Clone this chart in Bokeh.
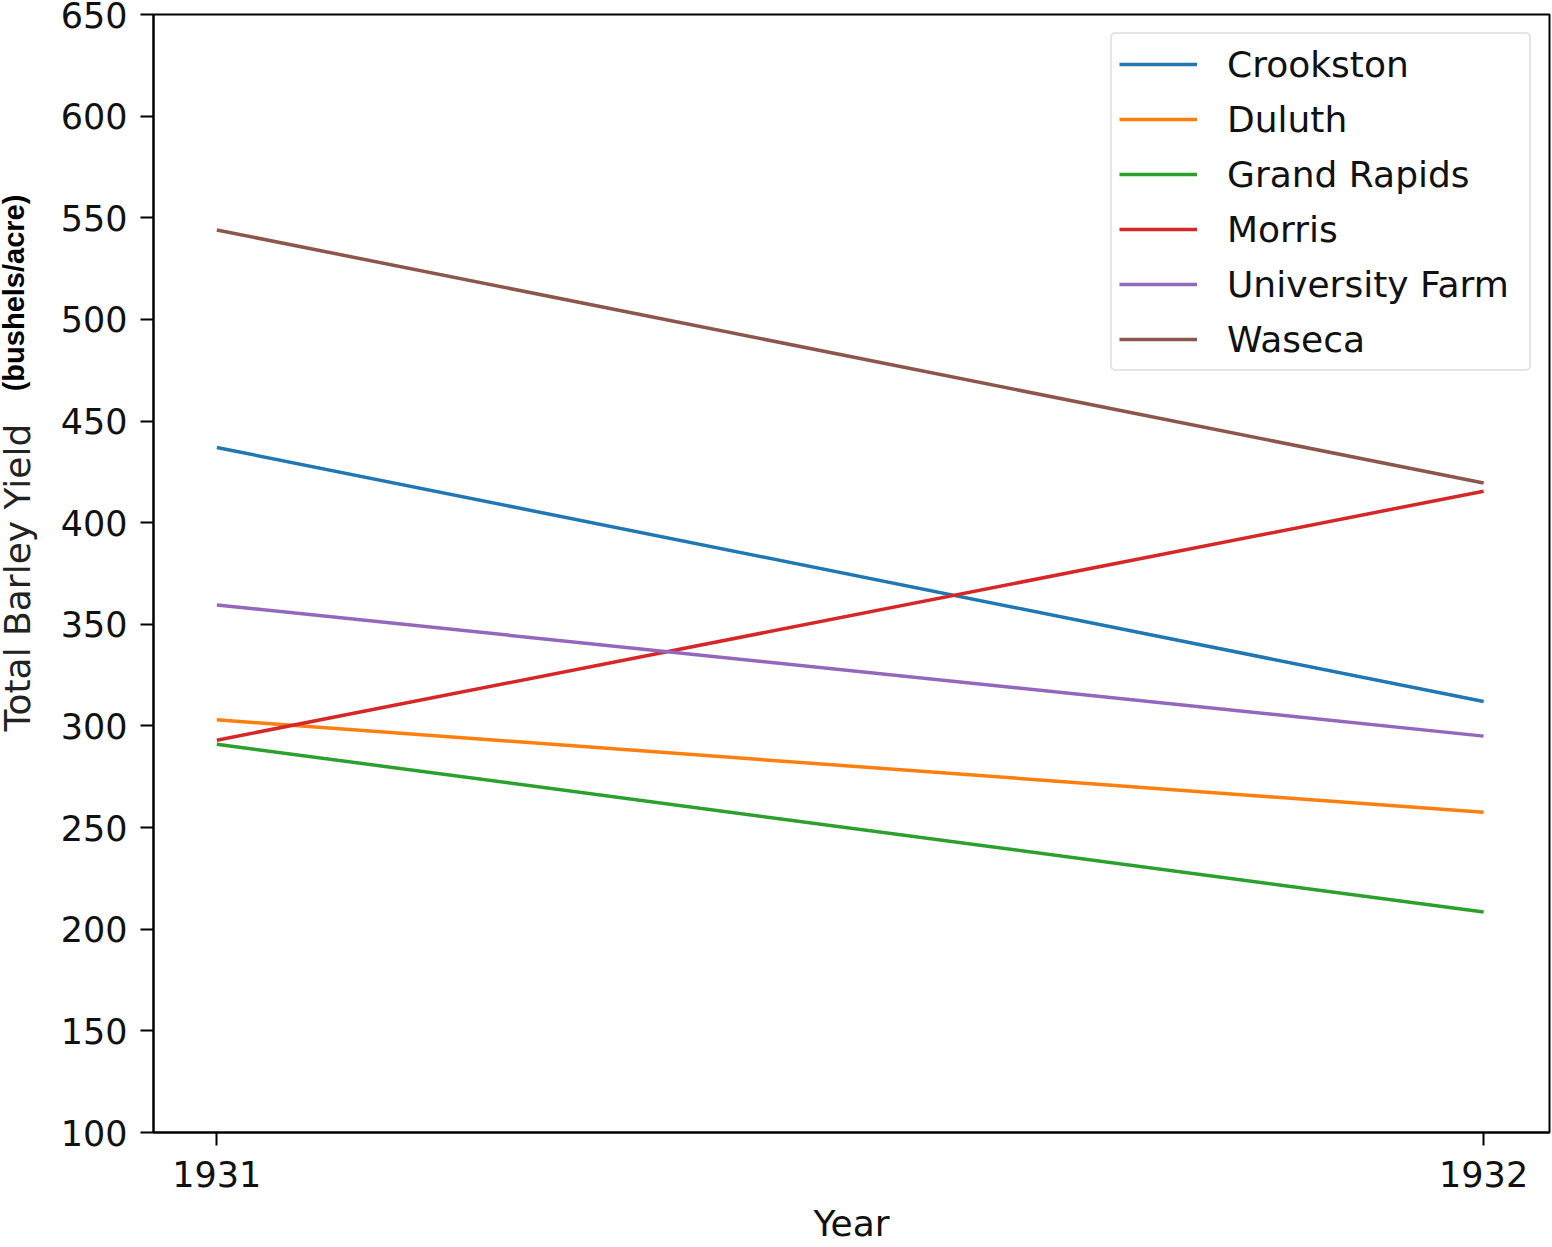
import math
from bokeh.plotting import figure
from bokeh.models import FixedTicker, Legend, LegendItem, Range1d
from bokeh.layouts import row
from bokeh.core.properties import value
from bokeh.embed import file_html
from bokeh.resources import INLINE

years = [1931, 1932]
sites = ["Crookston", "Duluth", "Grand Rapids", "Morris", "University Farm", "Waseca"]
crookston = [437.0, 312.0]
duluth = [303.0, 257.5]
grand_rapids = [291.0, 208.5]
morris = [293.0, 415.5]
university_farm = [359.5, 295.0]
waseca = [544.0, 419.5]
series = [crookston, duluth, grand_rapids, morris, university_farm, waseca]
colors = ["#1f77b4", "#ff7f0e", "#2ca02c", "#d62728", "#9467bd", "#8c564b"]
y_ticks = [100, 150, 200, 250, 300, 350, 400, 450, 500, 550, 600, 650]
x_label = "Year"
y_label_main = "Total Barley Yield"
y_label_unit = "(bushels/acre)"

H = 1246
LW = 40

# narrow strip on the left holding the two-part y-axis title (frame aligns with main frame)
side = figure(width=LW, height=H, output_backend="svg", toolbar_location=None,
              x_range=Range1d(0, LW), y_range=Range1d(100, 650),
              min_border=0, x_axis_type=None, y_axis_type=None)
side.outline_line_color = None
side.grid.visible = False
side.background_fill_color = "white"
side.border_fill_color = "white"
side.text(x=[17], y=[373], text=[y_label_main], angle=math.pi / 2,
          text_align="center", text_baseline="alphabetic",
          text_font=value("DejaVu Sans"), text_font_size=value("36px"),
          text_color="#222222")
side.text(x=[13.5], y=[513], text=[y_label_unit], angle=math.pi / 2,
          text_align="center", text_baseline="alphabetic",
          text_font=value("Liberation Sans"), text_font_size=value("29px"),
          text_font_style="bold", text_color="#000000")

p = figure(width=1551 - LW, height=H, output_backend="svg", toolbar_location=None,
           x_range=Range1d(1930.95, 1932.052), y_range=Range1d(100, 650),
           min_border_left=153 - LW, min_border_right=2, min_border_top=14, min_border_bottom=112)
p.background_fill_color = "white"
p.border_fill_color = "white"
p.outline_line_color = "black"
p.outline_line_width = 2
p.grid.visible = False

items = []
for name, vals, c in zip(sites, series, colors):
    r = p.line(years, vals, line_color=c, line_width=3.5)
    items.append(LegendItem(label=name, renderers=[r]))

for ax in (p.xaxis[0], p.yaxis[0]):
    ax.axis_line_color = "black"
    ax.axis_line_width = 2
    ax.major_tick_line_color = "black"
    ax.major_tick_line_width = 2
    ax.major_tick_out = 13
    ax.major_tick_in = 0
    ax.minor_tick_line_color = None
    ax.major_label_text_font = "DejaVu Sans"
    ax.major_label_text_font_size = "35px"
    ax.major_label_text_color = "#111111"

p.xaxis.ticker = FixedTicker(ticks=years)
p.xaxis.major_label_overrides = {1931: "1931", 1932: "1932"}
p.xaxis.major_label_standoff = 15
p.xaxis.axis_label = x_label
p.xaxis.axis_label_text_font = "DejaVu Sans"
p.xaxis.axis_label_text_font_size = "36px"
p.xaxis.axis_label_text_font_style = "normal"
p.xaxis.axis_label_text_color = "#111111"
p.xaxis.axis_label_standoff = 13

p.yaxis.ticker = FixedTicker(ticks=y_ticks)
p.yaxis.major_label_standoff = 13

legend = Legend(items=items, location="top_right")
legend.label_text_font = "DejaVu Sans"
legend.label_text_font_size = "36px"
legend.label_text_color = "#111111"
legend.glyph_width = 78
legend.glyph_height = 46
legend.label_height = 46
legend.label_width = 295
legend.label_standoff = 30
legend.spacing = 9
legend.padding = 7
legend.margin = 18
legend.border_line_color = "#cccccc"
legend.border_line_width = 2
legend.background_fill_color = "white"
legend.background_fill_alpha = 0.8
if "border_radius" in legend.properties():
    legend.border_radius = 5
p.add_layout(legend)

layout = row(side, p)
open("out.html", "w").write(file_html(layout, INLINE))
